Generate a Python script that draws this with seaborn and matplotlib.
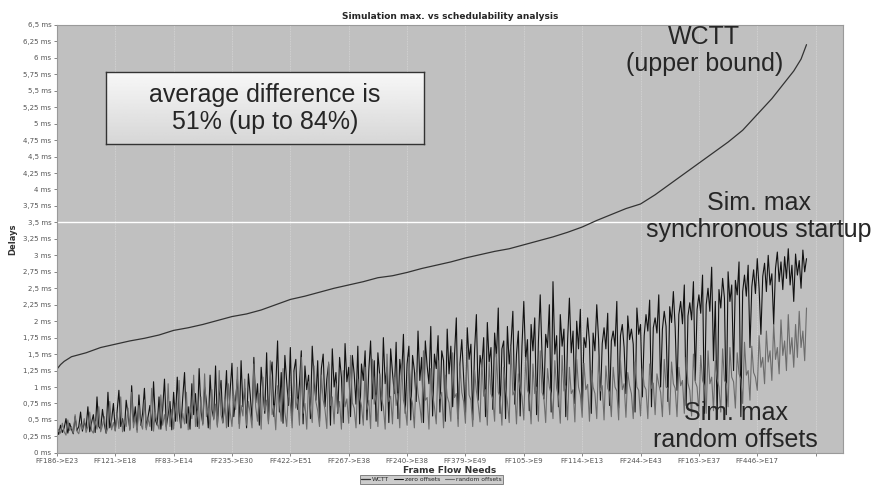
import numpy as np
import pandas as pd
import matplotlib
matplotlib.use("Agg")
import matplotlib.pyplot as plt
import seaborn as sns

# flows are sorted by WCTT; one tick label every 32 flows
tick_labels = ["FF186->E23", "FF121->E18", "FF83->E14", "FF235->E30", "FF422->E51",
               "FF267->E38", "FF240->E38", "FF379->E49", "FF105->E9", "FF114->E13",
               "FF244->E43", "FF163->E37", "FF446->E17", ""]
tick_step = 32

y_ticks = [0, 0.25, 0.5, 0.75, 1, 1.25, 1.5, 1.75, 2, 2.25, 2.5, 2.75, 3, 3.25,
           3.5, 3.75, 4, 4.25, 4.5, 4.75, 5, 5.25, 5.5, 5.75, 6, 6.25, 6.5]
y_tick_labels = [("%g" % v).replace(".", ",") + " ms" for v in y_ticks]

# WCTT (upper bound), sampled along the sorted flows
wctt_idx = [0, 2, 4, 8, 16, 24, 32, 40, 48, 56, 64, 72, 80, 88, 96, 104, 112, 120, 128,
            136, 144, 152, 160, 168, 176, 184, 192, 200, 208, 216, 224, 232, 240, 248,
            256, 264, 272, 280, 288, 296, 304, 312, 320, 328, 336, 344, 352, 360, 368,
            376, 384, 392, 400, 404, 408, 411]
wctt_ms = [1.27, 1.34, 1.39, 1.46, 1.52, 1.60, 1.65, 1.70, 1.74, 1.79, 1.86, 1.90, 1.95,
           2.01, 2.07, 2.11, 2.17, 2.25, 2.33, 2.38, 2.44, 2.50, 2.55, 2.60, 2.66, 2.69,
           2.74, 2.80, 2.85, 2.90, 2.96, 3.01, 3.06, 3.10, 3.16, 3.22, 3.28, 3.35, 3.43,
           3.53, 3.62, 3.71, 3.78, 3.92, 4.08, 4.24, 4.40, 4.56, 4.72, 4.90, 5.14, 5.38,
           5.66, 5.80, 5.98, 6.20]

# simulation max, zero offsets (synchronous startup)
zero_offsets = [
    0.35, 0.28, 0.42, 0.31, 0.38, 0.52, 0.30, 0.45, 0.36, 0.29, 0.55, 0.34, 0.40, 0.62, 0.33, 0.48,
    0.37, 0.70, 0.32, 0.46, 0.58, 0.31, 0.85, 0.40, 0.36, 0.66, 0.44, 0.30, 0.92, 0.38, 0.50, 0.75,
    0.34, 0.62, 0.95, 0.40, 0.52, 0.33, 0.80, 0.58, 0.36, 1.02, 0.45, 0.70, 0.35, 0.88, 0.42, 0.60,
    0.98, 0.38, 0.55, 0.72, 0.34, 1.08, 0.50, 0.42, 0.85, 0.36, 0.66, 1.12, 0.40, 0.58, 0.78, 0.35,
    0.92, 0.48, 1.15, 0.62, 0.38, 0.84, 1.22, 0.45, 0.70, 0.36, 1.05, 0.58, 0.90, 0.40, 1.28, 0.64,
    0.44, 1.00, 0.78, 0.38, 1.18, 0.66, 0.52, 1.32, 0.42, 0.86, 1.10, 0.46, 0.72, 1.25, 0.40, 0.95,
    1.36, 0.55, 0.82, 1.12, 0.44, 1.40, 0.70, 0.98, 0.38, 1.20, 0.88, 0.50, 1.45, 0.76, 1.05, 0.42,
    1.30, 0.92, 0.60, 1.52, 0.48, 1.15, 1.38, 0.55, 1.00, 1.70, 0.62, 1.22, 0.45, 1.48, 1.08, 0.72,
    1.60, 0.50, 1.25, 1.42, 0.66, 1.05, 1.55, 0.44, 1.32, 0.96, 1.18, 0.52, 1.62, 1.10, 0.80, 1.40,
    0.48, 1.28, 1.50, 0.70, 1.12, 1.35, 0.42, 1.58, 1.00, 1.22, 0.60, 1.45, 1.15, 0.46, 1.66, 1.08,
    1.30, 0.55, 1.48, 1.20, 0.74, 1.62, 0.44, 1.35, 1.10, 1.55, 0.50, 1.25, 1.70, 0.82, 1.40, 0.48,
    1.52, 1.18, 0.64, 1.75, 1.05, 1.30, 0.46, 1.58, 1.22, 0.90, 1.68, 0.52, 1.42, 1.15, 1.80, 0.60,
    1.35, 1.62, 0.50, 1.48, 1.25, 0.78, 1.85, 1.10, 1.45, 0.46, 1.70, 1.32, 1.05, 1.92, 0.56, 1.50,
    1.28, 1.78, 0.62, 1.55, 1.40, 0.48, 1.88, 1.20, 1.62, 0.70, 1.48, 2.05, 0.52, 1.36, 1.72, 1.15,
    0.58, 1.90, 1.42, 1.65, 0.50, 1.55, 2.10, 0.80, 1.48, 1.30, 1.75, 0.55, 1.98, 1.38, 1.60, 0.66,
    1.82, 1.45, 2.20, 0.60, 1.58, 1.70, 0.52, 1.92, 1.35, 1.66, 2.15, 0.74, 1.50, 1.85, 0.56, 1.62,
    2.30, 1.40, 1.72, 0.64, 1.95, 1.55, 2.05, 0.58, 1.68, 2.40, 1.48, 0.82, 1.80, 1.60, 2.25, 0.62,
    2.60, 1.50, 1.78, 0.70, 2.10, 1.62, 1.88, 0.55, 1.70, 2.35, 1.52, 1.85, 0.75, 2.00, 1.58, 2.18,
    0.66, 1.75, 1.60, 2.05, 1.68, 0.60, 1.82, 1.55, 2.25, 1.72, 0.80, 1.66, 1.90, 1.58, 2.12, 0.72,
    1.70, 1.85, 1.62, 2.30, 0.68, 1.78, 1.95, 1.60, 0.90, 2.08, 1.72, 1.88, 1.65, 0.62, 2.20, 1.80,
    1.95, 0.85, 1.78, 2.10, 1.85, 2.32, 0.70, 1.90, 2.05, 1.82, 2.40, 1.00, 1.88, 2.15, 1.92, 0.78,
    2.22, 1.98, 2.45, 1.90, 0.95, 2.10, 2.30, 1.96, 2.55, 0.72, 2.08, 2.28, 2.02, 2.60, 1.10, 2.18,
    2.40, 2.12, 2.70, 0.60, 2.25, 2.50, 2.15, 2.82, 1.40, 2.30, 0.52, 2.48, 2.20, 2.65, 2.35, 0.58,
    2.75, 2.30, 2.55, 1.25, 2.62, 2.40, 2.90, 0.55, 2.45, 2.70, 2.38, 2.85, 1.60, 2.52, 2.78, 2.42,
    2.95, 2.50, 1.80, 2.68, 2.88, 2.45, 3.00, 2.55, 2.72, 1.95, 2.80, 3.05, 2.60, 2.90, 2.48, 2.98,
    2.65, 3.10, 2.55, 2.85, 2.30, 3.02, 2.70, 2.92, 2.50, 3.08, 2.75, 2.95,
]

# simulation max, random offsets
random_offsets = [
    0.28, 0.36, 0.30, 0.45, 0.32, 0.27, 0.50, 0.34, 0.40, 0.30, 0.58, 0.33, 0.29, 0.44, 0.36, 0.52,
    0.31, 0.40, 0.62, 0.34, 0.30, 0.48, 0.36, 0.70, 0.32, 0.42, 0.55, 0.30, 0.38, 0.78, 0.35, 0.46,
    0.33, 0.60, 0.37, 0.85, 0.32, 0.50, 0.40, 0.68, 0.34, 0.92, 0.38, 0.55, 0.31, 0.72, 0.44, 0.36,
    0.80, 0.35, 0.52, 0.40, 0.98, 0.33, 0.62, 0.45, 0.36, 0.88, 0.42, 0.58, 0.34, 1.05, 0.40, 0.66,
    0.36, 0.75, 0.48, 1.10, 0.38, 0.60, 0.44, 0.92, 0.35, 0.70, 0.52, 1.18, 0.40, 0.64, 0.37, 0.85,
    0.42, 1.20, 0.55, 0.68, 0.36, 0.96, 0.50, 0.74, 0.39, 1.25, 0.58, 0.45, 0.82, 0.38, 1.05, 0.62,
    0.40, 0.88, 0.66, 1.30, 0.37, 0.72, 0.56, 1.12, 0.42, 0.78, 0.60, 0.38, 1.35, 0.70, 0.48, 0.90,
    0.36, 1.15, 0.64, 0.80, 0.44, 1.40, 0.58, 0.72, 0.35, 1.02, 0.76, 0.48, 1.28, 0.62, 0.40, 0.95,
    0.74, 0.38, 1.22, 0.68, 0.82, 0.42, 1.45, 0.60, 0.75, 0.36, 1.08, 0.70, 0.46, 1.32, 0.78, 0.64,
    0.40, 1.18, 0.80, 0.66, 0.37, 1.38, 0.72, 0.85, 0.44, 1.05, 0.62, 0.78, 0.36, 1.25, 0.70, 0.82,
    0.45, 1.48, 0.76, 0.68, 0.38, 1.12, 0.84, 0.72, 0.42, 1.30, 0.66, 0.80, 0.37, 1.42, 0.74, 0.88,
    0.40, 1.20, 0.82, 0.70, 0.36, 1.50, 0.78, 0.86, 0.44, 1.15, 0.72, 0.90, 0.38, 1.35, 0.80, 0.68,
    0.42, 1.45, 0.86, 0.75, 0.38, 1.22, 0.90, 0.72, 0.46, 1.55, 0.80, 0.84, 0.36, 1.28, 0.88, 0.70,
    0.44, 1.40, 0.82, 0.92, 0.38, 1.18, 0.86, 0.76, 0.48, 1.52, 0.84, 0.90, 0.40, 1.32, 0.92, 0.78,
    0.45, 1.58, 0.88, 0.80, 0.40, 1.25, 0.94, 0.74, 0.47, 1.42, 0.86, 0.96, 0.42, 1.36, 0.90, 0.82,
    0.48, 1.50, 0.92, 0.85, 0.42, 1.30, 0.96, 0.78, 0.46, 1.62, 0.88, 0.94, 0.44, 1.20, 0.98, 0.86,
    0.50, 1.45, 0.95, 0.88, 0.44, 1.35, 0.90, 1.00, 0.48, 1.55, 0.92, 0.84, 0.46, 1.28, 1.00, 0.90,
    0.52, 1.40, 0.98, 0.86, 0.45, 1.48, 0.94, 1.02, 0.50, 1.30, 0.90, 0.96, 0.47, 1.42, 1.00, 0.88,
    0.54, 1.36, 0.96, 1.04, 0.48, 1.25, 1.00, 0.90, 0.52, 1.45, 0.94, 1.02, 0.50, 1.32, 0.98, 0.92,
    0.55, 1.30, 1.00, 0.94, 0.50, 1.40, 0.96, 1.05, 0.54, 1.22, 1.02, 0.90, 0.52, 1.38, 1.00, 0.95,
    0.56, 1.28, 1.02, 0.96, 0.52, 1.35, 0.98, 1.06, 0.58, 1.20, 1.04, 0.92, 0.55, 1.42, 1.00, 0.98,
    0.58, 1.38, 1.05, 0.98, 0.55, 1.30, 1.02, 1.10, 0.60, 1.45, 1.06, 0.95, 0.56, 1.50, 1.08, 1.00,
    0.62, 1.48, 1.10, 1.02, 0.60, 1.55, 1.05, 1.15, 0.64, 1.40, 1.12, 1.00, 0.62, 1.58, 1.10, 1.05,
    0.70, 1.60, 1.15, 1.08, 0.68, 1.52, 1.20, 1.12, 0.75, 1.68, 1.18, 1.25, 0.80, 1.62, 1.22, 1.15,
    0.95, 1.78, 1.30, 1.45, 1.05, 1.85, 1.38, 1.55, 1.10, 1.95, 1.42, 1.60, 1.20, 2.02, 1.48, 1.70,
    1.25, 2.10, 1.50, 1.75, 1.30, 1.95, 1.45, 2.15, 1.60, 1.85, 1.40, 2.20,
]

sns.set_style("ticks", {"axes.facecolor": "#c0c0c0", "axes.edgecolor": "#9a9a9a"})

fig = plt.figure(figsize=(8.75, 4.88), dpi=100)
ax = fig.add_axes([0.065, 0.072, 0.898, 0.877])

sim_df = pd.concat([
    pd.DataFrame({"flow": np.arange(len(zero_offsets)), "delay": zero_offsets,
                  "series": "zero offsets"}),
    pd.DataFrame({"flow": np.arange(len(random_offsets)), "delay": random_offsets,
                  "series": "random offsets"}),
])
wctt_df = pd.DataFrame({"flow": wctt_idx, "delay": wctt_ms})

# vertical dotted grid at the label positions
tick_pos = [i * tick_step for i in range(len(tick_labels))]
for p in tick_pos:
    ax.axvline(p, color="#d6d6d6", lw=0.6, ls=(0, (1, 1)), zorder=0)
ax.axhline(3.5, color="white", lw=1.0, zorder=1)

sns.lineplot(data=wctt_df, x="flow", y="delay", color="#333333", lw=0.9,
             ax=ax, label="WCTT")
sns.lineplot(data=sim_df, x="flow", y="delay", hue="series",
             palette={"zero offsets": "#111111", "random offsets": "#6c6c6c"},
             lw=0.8, ax=ax)

ax.set_xlim(0, 430.8)
ax.set_ylim(0, 6.5)
ax.set_xticks(tick_pos)
ax.set_xticklabels(tick_labels)
ax.set_yticks(y_ticks)
ax.set_yticklabels(y_tick_labels)
ax.tick_params(labelsize=5, colors="#555555", length=2, width=0.5, pad=2)
ax.set_xlabel("Frame Flow Needs", fontsize=6.5, fontweight="bold", color="#333333", labelpad=1)
ax.set_ylabel("Delays", fontsize=6, fontweight="bold", color="#333333", labelpad=4)
ax.set_title("Simulation max. vs schedulability analysis", fontsize=6.5, fontweight="bold",
             pad=4)
for s in ax.spines.values():
    s.set_linewidth(0.8)

handles, labels = ax.get_legend_handles_labels()
ax.get_legend().remove()
leg = fig.legend(handles, labels, loc="lower center", bbox_to_anchor=(0.493, 0.003), ncol=3,
                 fontsize=4.3, frameon=True, fancybox=False, edgecolor="#555555",
                 handlelength=1.5, handletextpad=0.3, columnspacing=0.8,
                 borderpad=0.25)
leg.get_frame().set_linewidth(0.6)

big = dict(family=["Liberation Sans", "DejaVu Sans"], fontsize=18, ha="center",
           va="center", linespacing=1.15)

# annotation box with a light gradient, drawn as its own small axes
box_ax = fig.add_axes([0.121, 0.705, 0.364, 0.147])
box_ax.imshow(np.linspace(0.97, 0.84, 50).reshape(-1, 1), cmap="gray", vmin=0, vmax=1,
              aspect="auto", extent=(0, 1, 0, 1))
box_ax.set_xticks([])
box_ax.set_yticks([])
for s in box_ax.spines.values():
    s.set_edgecolor("#333333")
    s.set_linewidth(1.0)
box_ax.text(0.5, 0.5, "average difference is\n51% (up to 84%)",
            transform=box_ax.transAxes, **big)

ax.text(0.824, 0.94, "WCTT\n(upper bound)", transform=ax.transAxes, **big)
ax.text(0.893, 0.552, "Sim. max\nsynchronous startup", transform=ax.transAxes,
        clip_on=False, **big)
ax.text(0.864, 0.062, "Sim. max\nrandom offsets", transform=ax.transAxes, **big)

fig.savefig("out.png", dpi=100)
